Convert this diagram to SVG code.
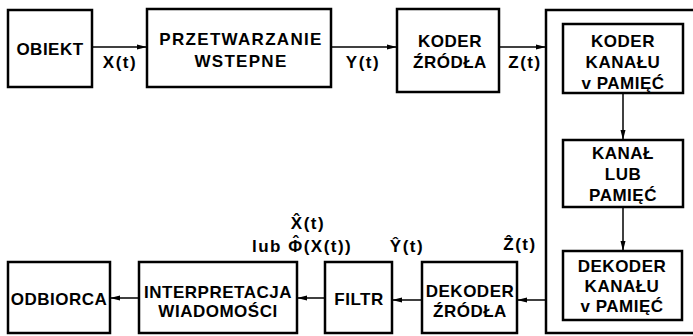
<svg xmlns="http://www.w3.org/2000/svg" width="693" height="336" viewBox="0 0 693 336">
<defs>
<style>
.box{fill:none;stroke:#000;stroke-width:2.5}
.ln{fill:none;stroke:#000;stroke-width:1.5}
text{font-family:"Liberation Sans",Arial,sans-serif;font-weight:bold;font-size:17px;letter-spacing:0.5px;fill:#000;text-anchor:middle}
.lab{letter-spacing:1.5px}
.st{text-anchor:start}
</style>
<marker id="ah" viewBox="0 0 10 6" refX="10" refY="3" markerWidth="10" markerHeight="6" markerUnits="userSpaceOnUse" orient="auto">
<path d="M0,0.5 L10,3 L0,5.5 Z" fill="#000"/>
</marker>
</defs>
<rect width="693" height="336" fill="#fff"/>
<g id="connectors">
<line class="ln" x1="92" y1="47" x2="147" y2="47" marker-end="url(#ah)"/>
<line class="ln" x1="331" y1="47" x2="397" y2="47" marker-end="url(#ah)"/>
<line class="ln" x1="499" y1="47" x2="546" y2="47" marker-end="url(#ah)"/>
<line class="ln" x1="623" y1="93" x2="623" y2="140" marker-end="url(#ah)"/>
<line class="ln" x1="623" y1="207" x2="623" y2="251" marker-end="url(#ah)"/>
<line class="ln" x1="546" y1="300" x2="517" y2="300" marker-end="url(#ah)"/>
<line class="ln" x1="422" y1="300" x2="392" y2="300" marker-end="url(#ah)"/>
<line class="ln" x1="325" y1="298" x2="297" y2="298" marker-end="url(#ah)"/>
<line class="ln" x1="139" y1="298" x2="110" y2="298" marker-end="url(#ah)"/>
<text class="lab" x="120" y="68">X(t)</text>
<text class="lab" x="363" y="68">Y(t)</text>
<text class="lab" x="525" y="68">Z(t)</text>
<text class="lab" x="520" y="250">Ẑ(t)</text>
<text class="lab" x="407" y="252">Ŷ(t)</text>
<text class="lab" x="308" y="229">X̂(t)</text>
<text class="lab st" x="252" y="252">lub Φ<tspan dx="-10.8" dy="-4">ˆ</tspan><tspan dx="3.6" dy="4">(X(t))</tspan></text>
</g>
<g id="obiekt">
<rect class="box" x="8" y="10" width="84" height="77"/>
<text x="50" y="55">OBIEKT</text>
</g>
<g id="przetwarzanie">
<rect class="box" x="147" y="9" width="184" height="78"/>
<text x="241" y="45" style="letter-spacing:1.3px">PRZETWARZANIE</text>
<text x="241" y="67" style="letter-spacing:1.3px">WSTEPNE</text>
</g>
<g id="koder-zrodla">
<rect class="box" x="397" y="9" width="102" height="83"/>
<text x="450" y="47">KODER</text>
<text x="450" y="68">ŹRÓDŁA</text>
</g>
<g id="kanal-system">
<rect class="box" x="546" y="10" width="160" height="323"/>
</g>
<g id="koder-kanalu">
<rect class="box" x="563" y="24" width="120" height="69"/>
<text x="623" y="47">KODER</text>
<text x="623" y="68">KANAŁU</text>
<text x="623" y="89">v PAMIĘĆ</text>
</g>
<g id="kanal-lub-pamiec">
<rect class="box" x="563" y="140" width="120" height="67"/>
<text x="623" y="159">KANAŁ</text>
<text x="623" y="180">LUB</text>
<text x="623" y="201">PAMIĘĆ</text>
</g>
<g id="dekoder-kanalu">
<rect class="box" x="563" y="251" width="119" height="69"/>
<text x="622" y="272">DEKODER</text>
<text x="622" y="292">KANAŁU</text>
<text x="622" y="312">v PAMIĘĆ</text>
</g>
<g id="dekoder-zrodla">
<rect class="box" x="422" y="262" width="95" height="71"/>
<text x="470" y="297">DEKODER</text>
<text x="470" y="317">ŹRÓDŁA</text>
</g>
<g id="filtr">
<rect class="box" x="325" y="262" width="67" height="71"/>
<text x="359" y="305">FILTR</text>
</g>
<g id="interpretacja">
<rect class="box" x="139" y="262" width="158" height="71"/>
<text x="218" y="298">INTERPRETACJA</text>
<text x="218" y="317">WIADOMOŚCI</text>
</g>
<g id="odbiorca">
<rect class="box" x="8" y="262" width="102" height="71"/>
<text x="59" y="305">ODBIORCA</text>
</g>
</svg>
